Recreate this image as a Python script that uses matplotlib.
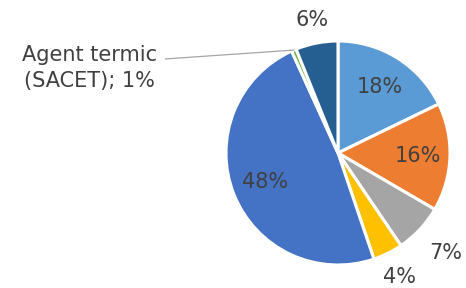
import numpy as np
import matplotlib
matplotlib.use("Agg")
import matplotlib.pyplot as plt

# ==========================================
# DATA
# ==========================================
shares = [17.8, 15.6, 7.1, 4.3, 48.4, 0.7, 6.1]
labels = ["", "", "", "", "", "Agent termic\n(SACET)", ""]
colors = ["#5B9BD5", "#ED7D31", "#A5A5A5", "#FFC000", "#4472C4", "#70AD47", "#255E91"]
# radial distance of each data label (fraction of radius)
label_dist = [0.70, 0.71, 1.31, 1.24, 0.70, None, 1.21]

TXT = "#404040"
FONT = "DejaVu Sans"
FS = 15

W, H = 466, 288
cx, cy, R = 338, 153, 112   # pixels from top-left

fig = plt.figure(figsize=(W / 100, H / 100), dpi=100)
ax = fig.add_axes([(cx - R) / W, (H - cy - R) / H, 2 * R / W, 2 * R / H])
ax.pie(shares, colors=colors, startangle=90, counterclock=False, radius=1,
       wedgeprops=dict(edgecolor="white", linewidth=2.2))
ax.set_xlim(-1, 1)
ax.set_ylim(-1, 1)
ax.set_aspect("equal")
ax.axis("off")

# data labels
total = sum(shares)
cum = np.cumsum(shares) - np.array(shares) / 2
for i, (v, d) in enumerate(zip(shares, label_dist)):
    pct = f"{round(v / total * 100):.0f}%"
    ang = np.deg2rad(90 - cum[i] / total * 360)
    if d is None:
        # leader line to label on the left
        ex, ey = np.cos(ang), np.sin(ang)
        lx, ly = -1.54, 0.84
        ax.plot([lx, ex], [ly, ey], color="#A5A5A5", lw=0.9, clip_on=False)
        ax.text(-2.22, 0.76, f"{labels[i]}; {pct}", ha="center", va="center",
                fontsize=FS, color=TXT, family=FONT, linespacing=1.35)
        continue
    ax.text(d * np.cos(ang), d * np.sin(ang), pct, ha="center", va="center",
            fontsize=FS, color=TXT, family=FONT)

fig.savefig("out.png", dpi=100)
